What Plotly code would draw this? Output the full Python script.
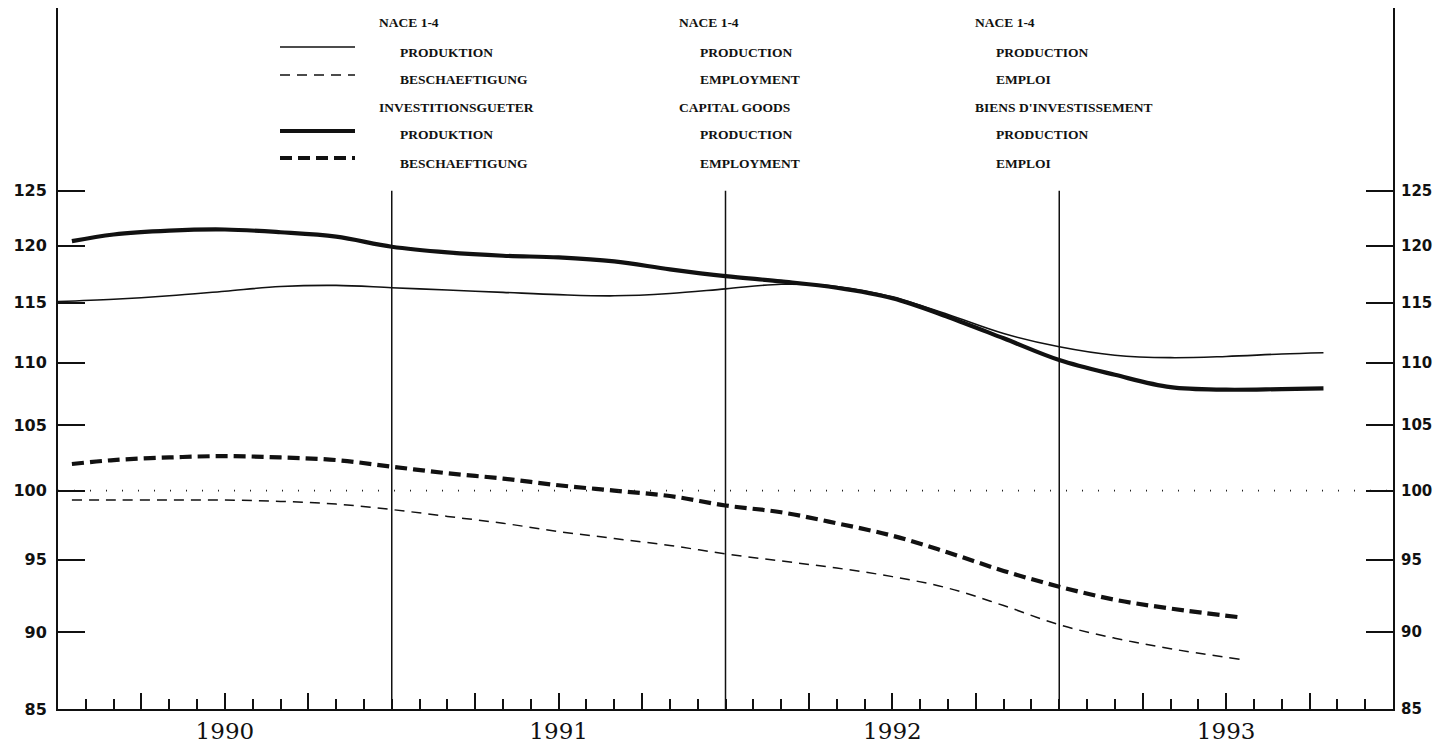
import math
import plotly.graph_objects as go

# ---------------- data (index values, months since Jan 1990) ----------------
prod_nace_x = [0, 2, 4, 6, 8, 10, 12, 14, 16, 18, 20, 22, 24, 26, 28, 30, 32, 34, 36, 38, 40, 42, 44, 45.5]
prod_nace_y = [115.1, 115.3, 115.6, 116.0, 116.4, 116.5, 116.3, 116.1, 115.9, 115.7, 115.6, 115.8,
               116.2, 116.6, 116.4, 115.5, 114.0, 112.4, 111.3, 110.6, 110.4, 110.5, 110.7, 110.8]

prod_cg_x = [0.5, 2, 4, 6, 8, 10, 12, 14, 16, 18, 20, 22, 24, 26, 28, 30, 32, 34, 36, 38, 40, 42, 44, 45.5]
prod_cg_y = [120.4, 121.0, 121.35, 121.45, 121.2, 120.8, 119.9, 119.4, 119.1, 118.95, 118.6, 117.9,
             117.3, 116.85, 116.3, 115.4, 113.8, 112.0, 110.2, 109.0, 108.0, 107.8, 107.85, 107.9]

emp_nace_x = [0.5, 2, 4, 6, 8, 10, 12, 14, 16, 18, 20, 22, 24, 26, 28, 30, 32, 34, 36, 38, 40, 42.5]
emp_nace_y = [99.3, 99.3, 99.3, 99.3, 99.2, 99.0, 98.6, 98.1, 97.6, 97.0, 96.5, 96.0,
              95.4, 94.9, 94.4, 93.8, 93.0, 91.8, 90.5, 89.6, 88.9, 88.2]

emp_cg_x = [0.5, 2, 4, 6, 8, 10, 12, 14, 16, 18, 20, 22, 24, 26, 28, 30, 32, 34, 36, 38, 40, 42.5]
emp_cg_y = [102.0, 102.3, 102.5, 102.6, 102.5, 102.3, 101.8, 101.3, 100.9, 100.4, 100.0, 99.6,
            98.9, 98.4, 97.6, 96.7, 95.5, 94.2, 93.1, 92.2, 91.6, 91.0]

years = ["1990", "1991", "1992", "1993"]
year_centres = [6, 18, 30, 42]
year_bounds = [12, 24, 36]
y_ticks = [85, 90, 95, 100, 105, 110, 115, 120, 125]
x_range = [0, 48]
y_range_log = [math.log10(85), 2.15598]

legend_cols = [
    ["NACE 1-4", "PRODUKTION", "BESCHAEFTIGUNG", "INVESTITIONSGUETER", "PRODUKTION", "BESCHAEFTIGUNG"],
    ["NACE 1-4", "PRODUCTION", "EMPLOYMENT", "CAPITAL GOODS", "PRODUCTION", "EMPLOYMENT"],
    ["NACE 1-4", "PRODUCTION", "EMPLOI", "BIENS D'INVESTISSEMENT", "PRODUCTION", "EMPLOI"],
]

# ---------------- figure ----------------
OFF = 8  # page body margin
W, H = 1433, 739
ML, MR, MT, MB = 50, 48, 0, 38
PW, PH = W - ML - MR, H - MT - MB

def px(x):  # page pixel -> paper
    return (x - OFF - ML) / PW

def py(y):
    return 1 - (y - OFF - MT) / PH

fig = go.Figure()

# reference line at 100
fig.add_trace(go.Scatter(x=x_range, y=[100, 100], mode="lines", yaxis="y2",
                         line=dict(color="#222", width=1.6, dash="1px,15px"),
                         hoverinfo="skip", showlegend=False))

# year divider lines
for b in year_bounds:
    fig.add_trace(go.Scatter(x=[b, b], y=[85, 125], mode="lines",
                             line=dict(color="#111", width=1.5),
                             hoverinfo="skip", showlegend=False))

fig.add_trace(go.Scatter(x=emp_nace_x, y=emp_nace_y, mode="lines", line_shape="spline",
                         line=dict(color="#111", width=1.5, dash="10px,7px"), showlegend=False))
fig.add_trace(go.Scatter(x=emp_cg_x, y=emp_cg_y, mode="lines", line_shape="spline",
                         line=dict(color="#111", width=4.2, dash="12px,6px"), showlegend=False))
fig.add_trace(go.Scatter(x=prod_nace_x, y=prod_nace_y, mode="lines", line_shape="spline",
                         line=dict(color="#111", width=1.6), showlegend=False))
fig.add_trace(go.Scatter(x=prod_cg_x, y=prod_cg_y, mode="lines", line_shape="spline",
                         line=dict(color="#111", width=4.2), showlegend=False))

# legend samples (paper coords)
samples = [(47, 1.6, "solid"), (75, 1.5, "10px,7px"), (131, 4.2, "solid"), (158, 4.2, "12px,6px")]
for yy, w, d in samples:
    fig.add_shape(type="line", xref="paper", yref="paper",
                  x0=px(280), x1=px(355), y0=py(yy), y1=py(yy),
                  line=dict(color="#111", width=w, dash=d))

row_y = [23, 52, 79, 107, 135, 163]
col_x = [(377, 398), (677, 698), (973, 994)]
for (hx, ix), col in zip(col_x, legend_cols):
    for i, (txt, ry) in enumerate(zip(col, row_y)):
        is_header = i in (0, 3)
        fig.add_annotation(xref="paper", yref="paper",
                           x=px(hx if is_header else ix), y=py(ry),
                           text=txt, showarrow=False, xanchor="left", yanchor="middle",
                           font=dict(family="Liberation Serif", size=13.5, color="#111", weight="bold"))

tickvals_x = [m for m in range(3, 48, 3) if m % 12 != 0]
ticktext_x = [years[year_centres.index(m)] if m in year_centres else "" for m in tickvals_x]

yfont = dict(family="DejaVu Sans", size=16, color="#111", weight="bold")
yfont_r = dict(family="DejaVu Sans", size=15, color="#111", weight="bold")

fig.update_layout(
    width=W, height=H,
    margin=dict(l=ML, r=MR, t=MT, b=MB, autoexpand=False),
    paper_bgcolor="white", plot_bgcolor="white",
    showlegend=False,
    xaxis=dict(range=x_range, showgrid=False, zeroline=False, automargin=False,
               showline=True, linecolor="#111", linewidth=2,
               tickvals=tickvals_x, ticktext=ticktext_x,
               ticks="inside", ticklen=16, tickwidth=1.5, tickcolor="#111",
               ticklabelstandoff=0,
               minor=dict(dtick=1, tick0=0, ticks="inside", ticklen=10, tickwidth=1.5, tickcolor="#111"),
               tickfont=dict(family="DejaVu Serif", size=23, color="#111")),
    yaxis=dict(type="log", range=y_range_log, showgrid=False, zeroline=False, automargin=False,
               showline=True, linecolor="#111", linewidth=2,
               tickvals=y_ticks, ticktext=[str(v) for v in y_ticks],
               ticks="inside", ticklen=27, tickwidth=2, tickcolor="#111",
               tickfont=yfont, ticklabelstandoff=6),
    yaxis2=dict(type="log", range=y_range_log, overlaying="y", side="right",
                showgrid=False, zeroline=False, automargin=False,
                showline=True, linecolor="#111", linewidth=2,
                tickvals=y_ticks, ticktext=[str(v) for v in y_ticks],
                ticks="inside", ticklen=27, tickwidth=2, tickcolor="#111",
                tickfont=yfont_r, ticklabelstandoff=3),
)

fig.write_html("out.html")
